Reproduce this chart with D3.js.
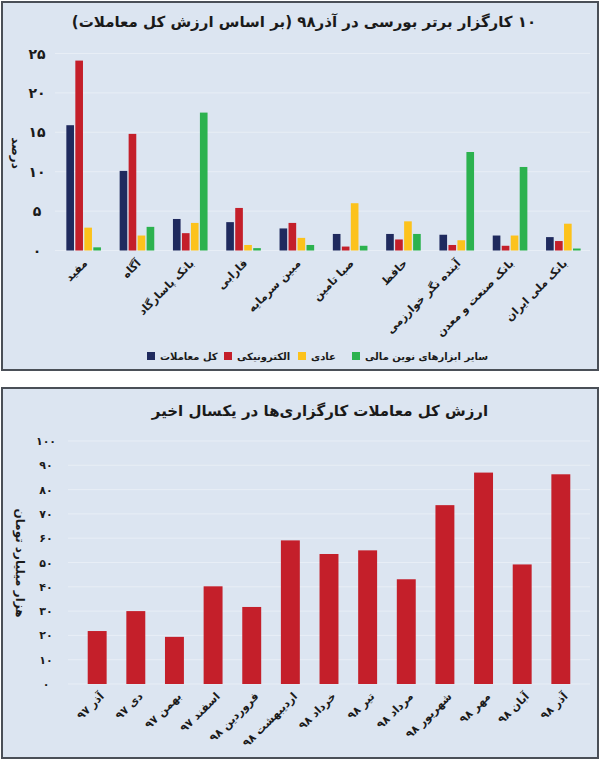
<!DOCTYPE html>
<html>
<head>
<meta charset="utf-8">
<script src="https://cdn.jsdelivr.net/npm/d3@7"></script>
<style>
body { margin: 0; background: #fff; }
text { font-family: "DejaVu Sans", sans-serif; fill: #1a1a1a; }
.rtl { direction: rtl; unicode-bidi: embed; }
</style>
</head>
<body>
<svg id="chart" width="600" height="760"></svg>
<script>
// top chart data
var brokers = ["مفید", "آگاه", "بانک پاسارگاد", "فارابی", "مبین سرمایه", "صبا تامین", "حافظ", "آینده نگر خوارزمی", "بانک صنعت و معدن", "بانک ملی ایران"];
var seriesNames = ["کل معاملات", "الکترونیکی", "عادی", "سایر ابزارهای نوین مالی"];
var seriesColors = ["#1f2a5e", "#c41f2a", "#fcc21c", "#2cb24f"];
var totalShare = [15.9, 10.1, 4.0, 3.6, 2.8, 2.1, 2.1, 2.0, 1.9, 1.7];
var electronicShare = [24.1, 14.8, 2.2, 5.4, 3.5, 0.5, 1.4, 0.7, 0.6, 1.2];
var regularShare = [2.9, 1.9, 3.5, 0.7, 1.6, 6.0, 3.7, 1.3, 1.9, 3.4];
var otherShare = [0.4, 3.0, 17.5, 0.3, 0.7, 0.6, 2.1, 12.5, 10.6, 0.25];
var topTicks = [0, 5, 10, 15, 20, 25];

// bottom chart data
var months = ["آذر ۹۷", "دی ۹۷", "بهمن ۹۷", "اسفند ۹۷", "فروردین ۹۸", "اردیبهشت ۹۸", "خرداد ۹۸", "تیر ۹۸", "مرداد ۹۸", "شهریور ۹۸", "مهر ۹۸", "آبان ۹۸", "آذر ۹۸"];
var monthValues = [21.8, 30, 19.4, 40.2, 31.7, 59.1, 53.5, 55, 43.1, 73.6, 87, 49.2, 86.3];
var bottomTicks = [0, 10, 20, 30, 40, 50, 60, 70, 80, 90, 100];

var fa = function(v) { return String(v).replace(/\d/g, function(d) { return "۰۱۲۳۴۵۶۷۸۹"[d]; }); };

var svg = d3.select("#chart");

// panels
[[2, 2, 596, 368], [2, 388, 596, 370]].forEach(function(p) {
	svg.append("rect").attr("x", p[0]).attr("y", p[1]).attr("width", p[2]).attr("height", p[3])
		.attr("fill", "#dce5f1").attr("stroke", "#4a4f57").attr("stroke-width", 2);
});

// ---- top chart ----
var seriesData = [totalShare, electronicShare, regularShare, otherShare];
var x0 = d3.scaleBand().domain(brokers).range([57, 590]).paddingInner(0.3).paddingOuter(0.15);
var x1 = d3.scaleBand().domain(d3.range(4)).range([0, x0.bandwidth()]).padding(0.15);
var y0 = d3.scaleLinear().domain([0, 25]).range([250.5, 53.5]);

svg.append("g").selectAll("line").data(topTicks).join("line")
	.attr("x1", 55).attr("x2", 590).attr("y1", d => y0(d)).attr("y2", d => y0(d))
	.attr("stroke", "#e8eef6").attr("stroke-width", 1);

svg.append("g").selectAll("text").data(topTicks).join("text")
	.attr("x", 37).attr("y", d => y0(d) + 5).attr("text-anchor", "middle")
	.attr("font-size", 14).attr("font-weight", "bold").text(d => fa(d));

var groups = svg.append("g").selectAll("g").data(brokers).join("g")
	.attr("transform", d => "translate(" + x0(d) + ",0)");
groups.selectAll("rect").data((d, i) => seriesData.map((s, k) => ({k: k, v: s[i]}))).join("rect")
	.attr("x", d => x1(d.k)).attr("width", x1.bandwidth())
	.attr("y", d => y0(d.v)).attr("height", d => y0(0) - y0(d.v))
	.attr("fill", d => seriesColors[d.k]);

svg.append("g").selectAll("text").data(brokers).join("text")
	.attr("class", "rtl")
	.attr("transform", d => "translate(" + (x0(d) + x0.bandwidth() * 0.62) + ",264) rotate(-45)")
	.attr("text-anchor", "start").attr("font-size", 11).attr("font-weight", "bold").text(d => d);

svg.append("text").attr("class", "rtl").attr("transform", "translate(12,153) rotate(90)")
	.attr("text-anchor", "middle").attr("font-size", 12).attr("font-weight", "bold").text("درصد");

svg.append("text").attr("class", "rtl").attr("x", 304).attr("y", 27).attr("text-anchor", "middle")
	.attr("font-size", 15).attr("font-weight", "bold").text("۱۰ کارگزار برتر بورسی در آذر۹۸ (بر اساس ارزش کل معاملات)");

// legend
var legendX = [147, 224, 298, 352];
var legend = svg.append("g").selectAll("g").data(seriesNames).join("g")
	.attr("transform", (d, i) => "translate(" + legendX[i] + ",356)");
legend.append("rect").attr("x", 0).attr("y", -4).attr("width", 8).attr("height", 8).attr("fill", (d, i) => seriesColors[i]);
legend.append("text").attr("class", "rtl").attr("x", 13).attr("y", 4).attr("text-anchor", "end")
	.attr("font-size", 10).attr("font-weight", "bold").text(d => d);

// ---- bottom chart ----
var xb = d3.scaleBand().domain(months).range([68, 590]).padding(0.51);
var yb = d3.scaleLinear().domain([0, 100]).range([684, 441]);

svg.append("g").selectAll("line").data(bottomTicks).join("line")
	.attr("x1", 68).attr("x2", 590).attr("y1", d => yb(d)).attr("y2", d => yb(d))
	.attr("stroke", "#e8eef6").attr("stroke-width", 1);

svg.append("g").selectAll("text").data(bottomTicks).join("text")
	.attr("x", 46).attr("y", d => yb(d) + 4).attr("text-anchor", "middle")
	.attr("font-size", 11).attr("font-weight", "bold").text(d => fa(d));

svg.append("g").selectAll("rect").data(monthValues).join("rect")
	.attr("x", (d, i) => xb(months[i])).attr("width", xb.bandwidth())
	.attr("y", d => yb(d)).attr("height", d => yb(0) - yb(d))
	.attr("fill", "#c41f2a");

svg.append("g").selectAll("text").data(months).join("text")
	.attr("class", "rtl")
	.attr("transform", d => "translate(" + (xb(d) + xb.bandwidth() * 0.9) + ",697) rotate(-45)")
	.attr("text-anchor", "start").attr("font-size", 11).attr("font-weight", "bold").text(d => d);

svg.append("text").attr("class", "rtl").attr("transform", "translate(16,563) rotate(90)")
	.attr("text-anchor", "middle").attr("font-size", 12).attr("font-weight", "bold").text("هزار میلیارد تومان");

svg.append("text").attr("class", "rtl").attr("x", 320).attr("y", 416).attr("text-anchor", "middle")
	.attr("font-size", 15).attr("font-weight", "bold").text("ارزش کل معاملات کارگزاری‌ها در یکسال اخیر");
</script>
</body>
</html>
